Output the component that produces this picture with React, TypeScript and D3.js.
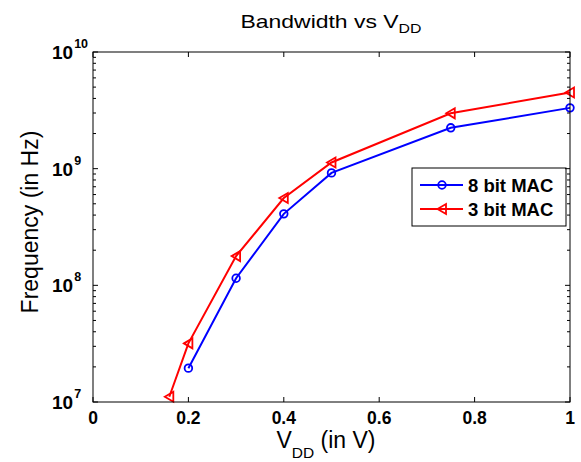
import React from "react";
import * as d3 from "d3";

const W = 581;
const H = 462;

const titleMain = "Bandwidth vs V";
const titleSub = "DD";
const xLabelMain = "V";
const xLabelSub = "DD";
const xLabelRest = " (in V)";
const yLabel = "Frequency (in Hz)";

const xTicks = [0, 0.2, 0.4, 0.6, 0.8, 1];
const xTickLabels = ["0", "0.2", "0.4", "0.6", "0.8", "1"];
const yExponents = [7, 8, 9, 10];

const series8Name = "8 bit MAC";
const series8X = [0.2, 0.3, 0.4, 0.5, 0.75, 1.0];
const series8Y = [1.95e7, 1.15e8, 4.1e8, 9.2e8, 2.24e9, 3.32e9];

const series3Name = "3 bit MAC";
const series3X = [0.16, 0.2, 0.3, 0.4, 0.5, 0.75, 1.0];
const series3Y = [1.11e7, 3.18e7, 1.78e8, 5.6e8, 1.13e9, 2.98e9, 4.5e9];

const FONT = "'Liberation Sans', Arial, Helvetica, sans-serif";

const left = 93, right = 570, top = 52, bottom = 402;

function Triangle({ cx, cy, color }: { cx: number; cy: number; color: string }) {
  const p = `M${cx - 4.5},${cy} L${cx + 4},${cy - 5} L${cx + 4},${cy + 5} Z`;
  return <path d={p} fill="none" stroke={color} strokeWidth={1.8} />;
}

function Circle({ cx, cy, color }: { cx: number; cy: number; color: string }) {
  return <circle cx={cx} cy={cy} r={3.8} fill="none" stroke={color} strokeWidth={1.8} />;
}

export default function App() {
  const x = d3.scaleLinear().domain([0, 1]).range([left, right]);
  const y = d3.scaleLog().domain([1e7, 1e10]).range([bottom, top]);

  const line = d3
    .line<[number, number]>()
    .x((d) => x(d[0]))
    .y((d) => y(d[1]));

  const d8 = series8X.map((v, i) => [v, series8Y[i]] as [number, number]);
  const d3s = series3X.map((v, i) => [v, series3Y[i]] as [number, number]);

  const minor: number[] = [];
  for (let e = 7; e < 10; e++) for (let k = 2; k <= 9; k++) minor.push(k * Math.pow(10, e));

  const blue = "#0000ff";
  const red = "#ff0000";

  const lg = { x0: 412, y0: 168, x1: 566, y1: 226 };

  return (
    <svg width={W} height={H} style={{ position: "absolute", left: 0, top: 0, background: "#fff" }}>
      <rect x={0} y={0} width={W} height={H} fill="#fff" />
      {/* title */}
      <g transform="translate(331,28) scale(1.22,1)">
        <text x={0} y={0} textAnchor="middle" fontFamily={FONT} fontSize={18.8} fill="#000">
          {titleMain}
          <tspan fontSize={13} dy={5}>{titleSub}</tspan>
        </text>
      </g>

      {/* data */}
      <path d={line(d8) || ""} fill="none" stroke={blue} strokeWidth={2} />
      <path d={line(d3s) || ""} fill="none" stroke={red} strokeWidth={2} />
      {d8.map((d, i) => (
        <Circle key={"c" + i} cx={x(d[0])} cy={y(d[1])} color={blue} />
      ))}
      {d3s.map((d, i) => (
        <Triangle key={"t" + i} cx={x(d[0])} cy={y(d[1])} color={red} />
      ))}

      {/* legend */}
      <rect x={lg.x0} y={lg.y0} width={lg.x1 - lg.x0} height={lg.y1 - lg.y0} fill="#fff" stroke="#000" strokeWidth={1} />
      <line x1={420} x2={463} y1={185} y2={185} stroke={blue} strokeWidth={2} />
      <Circle cx={442} cy={185} color={blue} />
      <text x={468} y={192} fontFamily={FONT} fontWeight="bold" fontSize={18.5} fill="#000">{series8Name}</text>
      <line x1={420} x2={463} y1={209} y2={209} stroke={red} strokeWidth={2} />
      <Triangle cx={442} cy={209} color={red} />
      <text x={468} y={216} fontFamily={FONT} fontWeight="bold" fontSize={18.5} fill="#000">{series3Name}</text>

      {/* axes box */}
      <rect x={left} y={top} width={right - left} height={bottom - top} fill="none" stroke="#000" strokeWidth={1} />

      {/* x ticks */}
      {xTicks.map((t, i) => (
        <g key={"xt" + i}>
          <line x1={x(t)} x2={x(t)} y1={bottom} y2={bottom - 5} stroke="#000" />
          <line x1={x(t)} x2={x(t)} y1={top} y2={top + 5} stroke="#000" />
          <text x={x(t)} y={424} textAnchor="middle" fontFamily={FONT} fontWeight="bold" fontSize={17.5} fill="#000">
            {xTickLabels[i]}
          </text>
        </g>
      ))}

      {/* y major ticks */}
      {yExponents.map((e) => {
        const yy = y(Math.pow(10, e));
        return (
          <g key={"yt" + e}>
            <line x1={left} x2={left + 5} y1={yy} y2={yy} stroke="#000" />
            <line x1={right} x2={right - 5} y1={yy} y2={yy} stroke="#000" />
            <text x={52} y={yy + 7} fontFamily={FONT} fontWeight="bold" fontSize={19} fill="#000">
              10
              <tspan fontSize={12.5} dx={1} dy={-11}>{String(e)}</tspan>
            </text>
          </g>
        );
      })}
      {/* y minor ticks */}
      {minor.map((m, i) => (
        <g key={"ym" + i}>
          <line x1={left} x2={left + 3} y1={y(m)} y2={y(m)} stroke="#000" />
          <line x1={right} x2={right - 3} y1={y(m)} y2={y(m)} stroke="#000" />
        </g>
      ))}

      {/* x label */}
      <text x={326} y={448} textAnchor="middle" fontFamily={FONT} fontSize={23} fill="#000">
        {xLabelMain}
        <tspan fontSize={15.5} dy={10}>{xLabelSub}</tspan>
        <tspan dy={-10}>{xLabelRest}</tspan>
      </text>

      {/* y label */}
      <text
        transform={`translate(38,222) rotate(-90)`}
        textAnchor="middle"
        fontFamily={FONT}
        fontSize={23}
        fill="#000"
      >
        {yLabel}
      </text>
    </svg>
  );
}
